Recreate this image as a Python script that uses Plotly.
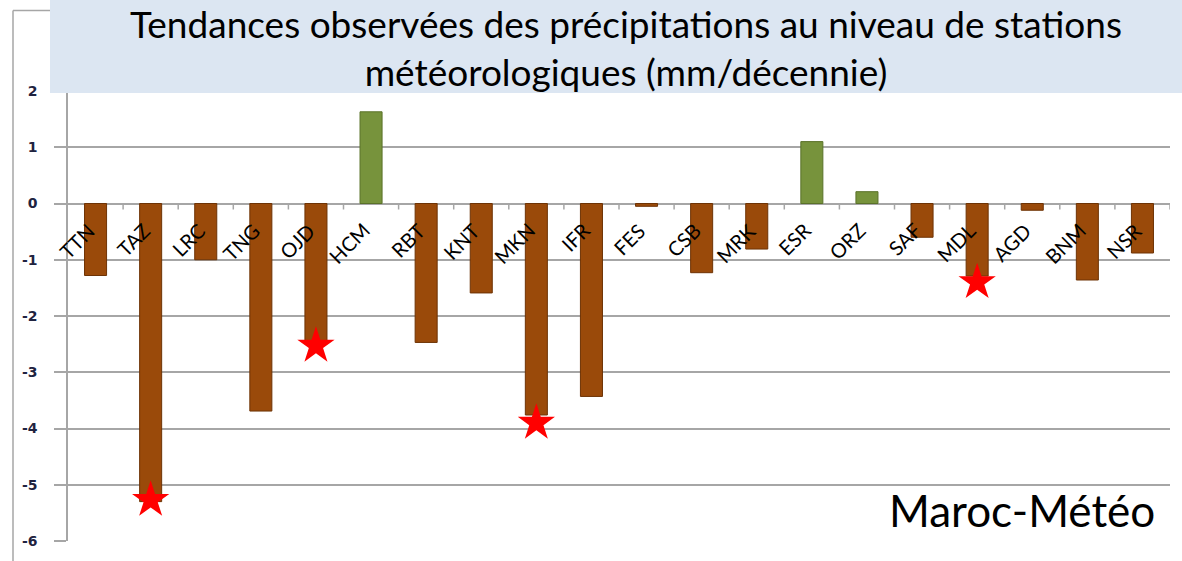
import plotly.graph_objects as go

# Stations and precipitation trends (mm/decade)
stations = ["TTN", "TAZ", "LRC", "TNG", "OJD", "HCM", "RBT", "KNT", "MKN", "IFR",
            "FES", "CSB", "MRK", "ESR", "ORZ", "SAF", "MDL", "AGD", "BNM", "NSR"]
trends = [-1.28, -5.30, -1.00, -3.69, -2.46, 1.63, -2.47, -1.59, -3.76, -3.43,
          -0.05, -1.23, -0.81, 1.10, 0.21, -0.60, -1.29, -0.12, -1.36, -0.88]

# Stations with a significant trend (star markers)
signif_stations = ["TAZ", "OJD", "MKN", "MDL"]
signif_marks = [-5.27, -2.53, -3.90, -1.40]

y_ticks = [2, 1, 0, -1, -2, -3, -4, -5, -6]

W, H = 1182, 561
L, R, T, B = 68, 12, 91, 17
PW, PH = W - L - R, H - T - B


def px(x):
    return (x - L) / PW


def py(y):
    return (H - B - y) / PH


BROWN = "#9A4A0A"
BROWN_EDGE = "#6E3305"
GREEN = "#77933C"
GREEN_EDGE = "#5A7229"
GRID = "#A6A6A6"

colors = [GREEN if v > 0 else BROWN for v in trends]
edges = [GREEN_EDGE if v > 0 else BROWN_EDGE for v in trends]

fig = go.Figure()
fig.add_trace(go.Bar(
    x=stations, y=trends, width=0.4,
    marker=dict(color=colors, line=dict(color=edges, width=1)),
    hoverinfo="x+y",
))
fig.add_trace(go.Scatter(
    x=signif_stations, y=signif_marks, mode="markers",
    marker=dict(symbol="star", size=28, color="#FF0000", line=dict(width=0)),
    hoverinfo="skip",
))

shapes = []
# small category tick marks hanging below the zero line
for i in range(len(stations)):
    shapes.append(dict(
        type="line", xref="x", yref="y", ysizemode="pixel", yanchor=0,
        x0=i + 0.5, x1=i + 0.5, y0=0, y1=-6,
        line=dict(color=GRID, width=1.5),
    ))
# outer frame of the chart area
shapes.append(dict(type="line", xref="paper", yref="paper",
                   x0=px(13), x1=px(13), y0=py(10), y1=py(H + 5),
                   line=dict(color=GRID, width=1.5)))
shapes.append(dict(type="line", xref="paper", yref="paper",
                   x0=px(13), x1=px(52), y0=py(10), y1=py(10),
                   line=dict(color=GRID, width=1.5)))
# title banner
shapes.append(dict(type="rect", xref="paper", yref="paper", layer="above",
                   x0=px(50), x1=px(W + 5), y0=py(93), y1=py(-5),
                   fillcolor="#DCE6F2", line=dict(width=0)))

annotations = []
for s in stations:
    annotations.append(dict(
        x=s, y=0, xref="x", yref="y", text=s, showarrow=False,
        textangle=-45, xanchor="right", yanchor="top",
        xshift=6, yshift=-12,
        font=dict(family="Lato", size=20, color="#000000"),
    ))
annotations.append(dict(
    x=px(626), y=py(47), xref="paper", yref="paper", showarrow=False,
    text="Tendances observées des précipitations au niveau de stations"
         "<br>météorologiques (mm/décennie)",
    xanchor="center", yanchor="middle", align="center",
    font=dict(family="Lato", size=37, color="#000000"),
))
annotations.append(dict(
    x=px(1022), y=py(513), xref="paper", yref="paper", showarrow=False,
    text="Maroc-Météo", xanchor="center", yanchor="middle",
    font=dict(family="Lato", size=44, color="#000000"),
))

fig.update_layout(
    width=W, height=H,
    margin=dict(l=L, r=R, t=T, b=B, pad=0),
    paper_bgcolor="white", plot_bgcolor="white",
    showlegend=False, bargap=0.6,
    shapes=shapes, annotations=annotations,
    xaxis=dict(showticklabels=False, showgrid=False, zeroline=False,
               ticks="", showline=False, range=[-0.5, len(stations) - 0.5]),
    yaxis=dict(range=[-6, 2], tickvals=y_ticks, ticktext=[str(v) for v in y_ticks],
               showgrid=True, gridcolor=GRID, gridwidth=1.5,
               zeroline=False, showline=True, linecolor=GRID, linewidth=1.5,
               ticks="outside", ticklen=12, tickcolor=GRID, tickwidth=1.5,
               ticklabelstandoff=14,
               tickfont=dict(family="DejaVu Sans", size=14, color="#1F2340",
                             weight="bold")),
)

fig.write_html("out.html")
